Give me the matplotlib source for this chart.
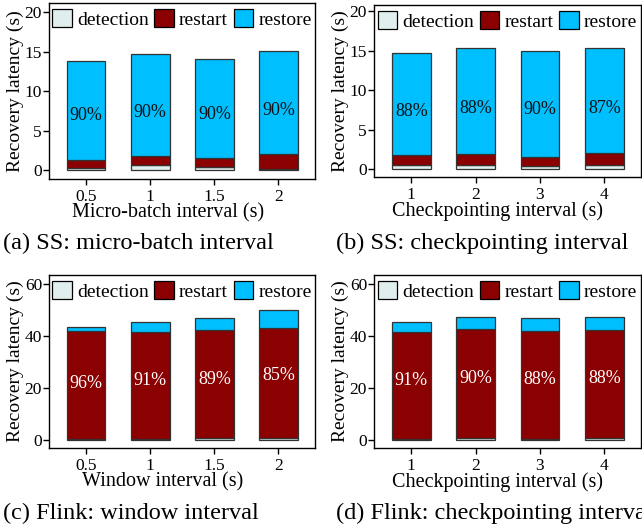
import numpy as np
import matplotlib
matplotlib.use("Agg")
import matplotlib.pyplot as plt
from matplotlib.patches import Patch

plt.rcParams['font.family'] = ['Liberation Serif', 'DejaVu Serif']

# --- dados ---
ss_batch_x = ["0.5", "1", "1.5", "2"]
ss_batch_det = [0.3, 0.6, 0.34, 0.17]
ss_batch_restart = [0.93, 1.18, 1.19, 1.83]
ss_batch_restore = [12.63, 12.92, 12.54, 13.13]
ss_batch_pct = ["90%", "90%", "90%", "90%"]

ss_ckpt_x = ["1", "2", "3", "4"]
ss_ckpt_det = [0.55, 0.55, 0.34, 0.47]
ss_ckpt_restart = [1.23, 1.31, 1.19, 1.53]
ss_ckpt_restore = [12.92, 13.44, 13.47, 13.3]
ss_ckpt_pct = ["88%", "88%", "90%", "87%"]

fl_win_x = ["0.5", "1", "1.5", "2"]
fl_win_det = [0.4, 0.4, 0.77, 0.8]
fl_win_restart = [41.65, 41.3, 41.43, 42.3]
fl_win_restore = [1.45, 3.8, 4.7, 6.9]
fl_win_pct = ["96%", "91%", "89%", "85%"]

fl_ckpt_x = ["1", "2", "3", "4"]
fl_ckpt_det = [0.4, 0.77, 0.4, 0.77]
fl_ckpt_restart = [41.3, 42.13, 41.4, 41.43]
fl_ckpt_restore = [3.7, 4.3, 5.1, 5.0]
fl_ckpt_pct = ["91%", "90%", "88%", "88%"]

c_det = "#e0eeee"
c_restart = "#8b0000"
c_restore = "#00bfff"


def painel(ax, xs, det, restart, restore, pct, ylim, yticks, xlabel, xlab_pos, pct_color):
    idx = np.arange(len(xs))
    det = np.array(det)
    restart = np.array(restart)
    restore = np.array(restore)
    kw = dict(width=0.6, edgecolor="#333333", linewidth=0.9)
    ax.bar(idx, det, color=c_det, **kw)
    ax.bar(idx, restart, bottom=det, color=c_restart, **kw)
    ax.bar(idx, restore, bottom=det + restart, color=c_restore, **kw)
    total = det + restart + restore
    for i in idx:
        ax.text(i, total[i] / 2, pct[i], ha="center", va="center",
                fontsize=13, color=pct_color)
    ax.set_xlim(-0.58, len(xs) - 1 + 0.57)
    ax.set_ylim(*ylim)
    ax.set_yticks(yticks)
    ax.set_xticks(idx)
    ax.set_xticklabels(xs)
    ax.tick_params(labelsize=12.5, length=4, width=1, pad=1)
    ax.tick_params(axis="x", pad=3)
    ax.set_xlabel(xlabel, fontsize=14.5)
    ax.xaxis.set_label_coords(xlab_pos, -0.14)
    ax.set_ylabel("Recovery latency (s)", fontsize=14)
    ax.yaxis.set_label_coords(-0.095, 0.5)
    for s in ax.spines.values():
        s.set_linewidth(1)
    handles = [Patch(facecolor=c_det, edgecolor="black", linewidth=0.9, label="detection"),
               Patch(facecolor=c_restart, edgecolor="black", linewidth=0.9, label="restart"),
               Patch(facecolor=c_restore, edgecolor="black", linewidth=0.9, label="restore")]
    ax.legend(handles=handles, loc="upper center", ncol=3, frameon=False,
              fontsize=14, handlelength=1.0, handleheight=1.0, handletextpad=0.27,
              columnspacing=0.3, borderaxespad=0.1, bbox_to_anchor=(0.5, 1.02))


fig = plt.figure(figsize=(6.42, 5.29), dpi=100)
W, H = 642, 529
ax_a = fig.add_axes([49 / W, 1 - 179 / H, 266 / W, 176 / H])
ax_b = fig.add_axes([374 / W, 1 - 177 / H, 267 / W, 172 / H])
ax_c = fig.add_axes([49 / W, 1 - 448 / H, 266 / W, 173 / H])
ax_d = fig.add_axes([374 / W, 1 - 448 / H, 267 / W, 173 / H])

painel(ax_a, ss_batch_x, ss_batch_det, ss_batch_restart, ss_batch_restore, ss_batch_pct,
       (-1.15, 21.2), [0, 5, 10, 15, 20], "Micro-batch interval (s)", 0.449, "#111111")
painel(ax_b, ss_ckpt_x, ss_ckpt_det, ss_ckpt_restart, ss_ckpt_restore, ss_ckpt_pct,
       (-1.0, 20.8), [0, 5, 10, 15, 20], "Checkpointing interval (s)", 0.464, "#111111")
painel(ax_c, fl_win_x, fl_win_det, fl_win_restart, fl_win_restore, fl_win_pct,
       (-3.1, 63.5), [0, 20, 40, 60], "Window interval (s)", 0.427, "white")
painel(ax_d, fl_ckpt_x, fl_ckpt_det, fl_ckpt_restart, fl_ckpt_restore, fl_ckpt_pct,
       (-3.1, 63.5), [0, 20, 40, 60], "Checkpointing interval (s)", 0.464, "white")

# legendas das sub-figuras
fig.text(3 / W, 1 - 243 / H, "(a) SS: micro-batch interval", fontsize=17.5, va="center")
fig.text(336 / W, 1 - 243 / H, "(b) SS: checkpointing interval", fontsize=17.5, va="center")
fig.text(3 / W, 1 - 513 / H, "(c) Flink: window interval", fontsize=17.5, va="center")
fig.text(336 / W, 1 - 513 / H, "(d) Flink: checkpointing interval", fontsize=17.5, va="center")

fig.savefig("out.png", dpi=100)
